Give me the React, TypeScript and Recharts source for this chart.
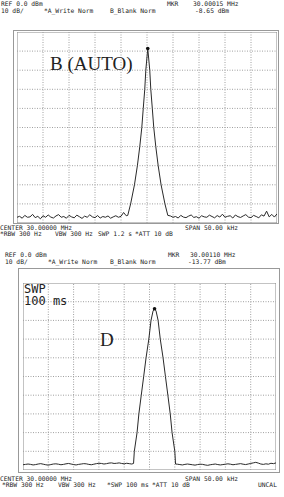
import React from "react";
import { Line, LineChart, ReferenceArea, ReferenceDot, ReferenceLine, XAxis, YAxis } from "recharts";

// frequency offset from 30 MHz centre, kHz (span 50 kHz)
const freqTicks = [-20, -15, -10, -5, 0, 5, 10, 15, 20];
// level, dBm (ref 0 dBm, 10 dB/div)
const levelTicks = [-90, -80, -70, -60, -50, -40, -30, -20, -10];

// panel B (AUTO) - noise floor sampled every 0.5 kHz
const autoNoiseLeft = [
    -97, -96.5, -97.5, -96, -97, -96.8, -95.5, -97.2, -96.5, -97.8,
    -96.2, -97, -95.8, -96.9, -97.4, -96.3, -95.6, -97, -96.6, -97.5,
    -96, -96.8, -97.3, -95.9, -96.7, -97.6, -96.4, -97, -95.7, -96.8,
    -97.2, -96.1, -97.4, -96.6, -97, -96.3, -97.5, -96.8, -96.2, -97,
    -96.5, -94.5, -96.2,
]; // -25 .. -4 kHz
const autoPeakFreq = [-3.7, -3.15, -2.41, -1.85, -1.39, -1.0, -0.72, -0.43, -0.23, 0.15, 0.53, 0.73, 1.02, 1.3, 1.69, 2.15, 2.71, 3.45, 4.0];
const autoPeakLevel = [-96, -90, -80, -70, -60, -50, -40, -30, -20, -8.65, -20, -30, -40, -50, -60, -70, -80, -90, -96];
const autoNoiseRight = [
    -96.3, -97, -96.6, -97.4, -96, -96.9, -97.2, -96.4, -95.8, -97.1,
    -96.7, -97.5, -96.2, -96.8, -97, -95.9, -96.6, -97.3, -96.1, -96.9,
    -95.4, -97, -96.5, -96.2, -97.4, -95.8, -96.7, -97.1, -96.3, -95.6,
    -96.9, -97.2, -96, -96.6, -97.3, -95.7, -96.4, -93.8, -96.8, -95.5,
    -96.9, -95.2,
]; // 4.5 .. 25 kHz
const autoMarker = { f: 0.15, lvl: -8.65 };

// panel D (SWP 100 ms)
const fastNoiseLeft = [
    -97.2, -97.0, -96.8, -97.0, -97.3, -97.1, -96.8, -96.6, -96.9, -97.2,
    -97.4, -97.1, -96.8, -96.7, -96.9, -97.2, -97.0, -96.7, -96.5, -96.8,
    -97.1, -97.3, -97.0, -96.8, -96.6, -96.7, -97.0, -97.2, -96.9, -96.6,
    -96.4, -96.5, -96.8, -96.6, -96.3, -96.2, -96.5, -96.4, -96.2, -96.5,
    -96.7, -96.4, -96.6, -96.8,
]; // -25 .. -3.5 kHz
const fastPeakFreq = [-3.15, -3.0, -2.46, -2.1, -1.63, -1.15, -0.68, -0.13, 0.3, 0.7, 1.0, 1.3, 1.7, 2.13, 2.68, 3.15, 3.63, 4.1, 4.46, 5.0, 5.15];
const fastPeakLevel = [-96.5, -90, -80, -70, -60, -50, -40, -30, -20, -15, -13.77, -15, -20, -30, -40, -50, -60, -70, -80, -90, -96.8];
const fastNoiseRight = [
    -96.9, -97.1, -97.3, -97.0, -96.8, -97.0, -97.2, -97.4, -97.1, -96.9,
    -97.0, -97.3, -97.5, -97.2, -97.0, -96.8, -97.1, -97.3, -97.1, -96.9,
    -96.7, -96.9, -97.2, -97.0, -96.8, -96.6, -96.9, -97.1, -96.8, -96.5,
    -96.2, -95.9, -96.3, -96.8, -97.0, -96.7, -96.9, -96.4, -96.6, -96.2,
]; // 5.5 .. 25 kHz
const fastMarker = { f: 1.0, lvl: -13.77 };

const sweep = (start: number, vals: number[]) => vals.map((v, i) => ({ f: start + i * 0.5, lvl: v }));
const pairs = (fs: number[], ls: number[]) => fs.map((f, i) => ({ f, lvl: ls[i] }));

const autoData = [...sweep(-25, autoNoiseLeft), ...pairs(autoPeakFreq, autoPeakLevel), ...sweep(4.5, autoNoiseRight)];
const fastData = [...sweep(-25, fastNoiseLeft), ...pairs(fastPeakFreq, fastPeakLevel), ...sweep(5.5, fastNoiseRight)];

const mono = '"DejaVu Sans Mono", "Liberation Mono", monospace';

const T = ({ x, y, children, size = 6.3, lh = 1 }: { x: number; y: number; children: React.ReactNode; size?: number; lh?: number | string }) => (
    <div style={{ position: 'absolute', left: x, top: y, fontFamily: mono, fontSize: size, lineHeight: lh, color: '#222', whiteSpace: 'pre' }}>
        {children}
    </div>
);

const Screen = ({ data, marker, left, top, width, height }: any) => (
    <div style={{ position: 'absolute', left, top }}>
        <LineChart width={width} height={height} data={data} margin={{ top: 0, right: 0, left: 0, bottom: 0 }}>
            <XAxis dataKey="f" type="number" domain={[-25, 25]} hide />
            <YAxis type="number" domain={[-100, 0]} hide />
            {freqTicks.map(t => (
                <ReferenceLine key={'x' + t} x={t} stroke="#a0a0a0" strokeDasharray="1 1.5" />
            ))}
            {levelTicks.map(t => (
                <ReferenceLine key={'y' + t} y={t} stroke="#a0a0a0" strokeDasharray="1 1.5" />
            ))}
            <ReferenceArea x1={-25} x2={25} y1={-100} y2={0} fill="none" stroke="#888" strokeWidth={1} />
            <Line type="linear" dataKey="lvl" stroke="#2a2a2a" strokeWidth={1} dot={false} isAnimationActive={false} />
            <ReferenceDot x={marker.f} y={marker.lvl} r={1.8} fill="#111" stroke="none" />
        </LineChart>
    </div>
);

const App: React.FC = () => {
    return (
        <div style={{ position: 'absolute', left: 0, top: 0, width: 284, height: 497, background: '#fff', overflow: 'hidden' }}>
            {/* panel B (AUTO) */}
            <T x={1} y={1}>REF 0.0 dBm</T>
            <T x={167} y={1}>MKR</T>
            <T x={193} y={1}>30.00015 MHz</T>
            <T x={1} y={8}>10 dB/</T>
            <T x={44} y={8}>*A_Write Norm</T>
            <T x={110} y={8}>B_Blank Norm</T>
            <T x={195} y={8}>-8.65 dBm</T>
            <div style={{ position: 'absolute', left: 13, top: 30, width: 266, height: 194, border: '1px solid #999', boxSizing: 'border-box' }} />
            <Screen data={autoData} marker={autoMarker} left={17} top={32} width={260} height={191} />
            <div style={{ position: 'absolute', left: 50, top: 53, fontFamily: '"Liberation Serif", serif', fontSize: 19, color: '#222' }}>B (AUTO)</div>
            <T x={0} y={225}>CENTER 30.00000 MHz</T>
            <T x={185} y={225}>SPAN 50.00 kHz</T>
            <T x={0} y={231}>*RBW 300 Hz</T>
            <T x={55} y={231}>VBW 300 Hz</T>
            <T x={98} y={231}>SWP 1.2 s</T>
            <T x={135} y={231}>*ATT 10 dB</T>

            {/* panel D (SWP 100 ms) */}
            <T x={5} y={252}>REF 0.0 dBm</T>
            <T x={168} y={252}>MKR</T>
            <T x={190} y={252}>30.00110 MHz</T>
            <T x={5} y={259}>10 dB/</T>
            <T x={48} y={259}>*A_Write Norm</T>
            <T x={110} y={259}>B_Blank Norm</T>
            <T x={188} y={259}>-13.77 dBm</T>
            <div style={{ position: 'absolute', left: 18, top: 268, width: 262, height: 205, border: '1px solid #999', boxSizing: 'border-box' }} />
            <Screen data={fastData} marker={fastMarker} left={23} top={283} width={253} height={187} />
            <T x={24} y={284} size={12} lh="11.5px">{'SWP\n100 ms'}</T>
            <div style={{ position: 'absolute', left: 100, top: 329, fontFamily: '"Liberation Serif", serif', fontSize: 19, color: '#222' }}>D</div>
            <T x={0} y={476}>CENTER 30.00000 MHz</T>
            <T x={185} y={476}>SPAN 50.00 kHz</T>
            <T x={2} y={482}>*RBW 300 Hz</T>
            <T x={58} y={482}>VBW 300 Hz</T>
            <T x={107} y={482}>*SWP 100 ms</T>
            <T x={152} y={482}>*ATT 10 dB</T>
            <T x={258} y={482}>UNCAL</T>
        </div>
    );
};

export default App;
